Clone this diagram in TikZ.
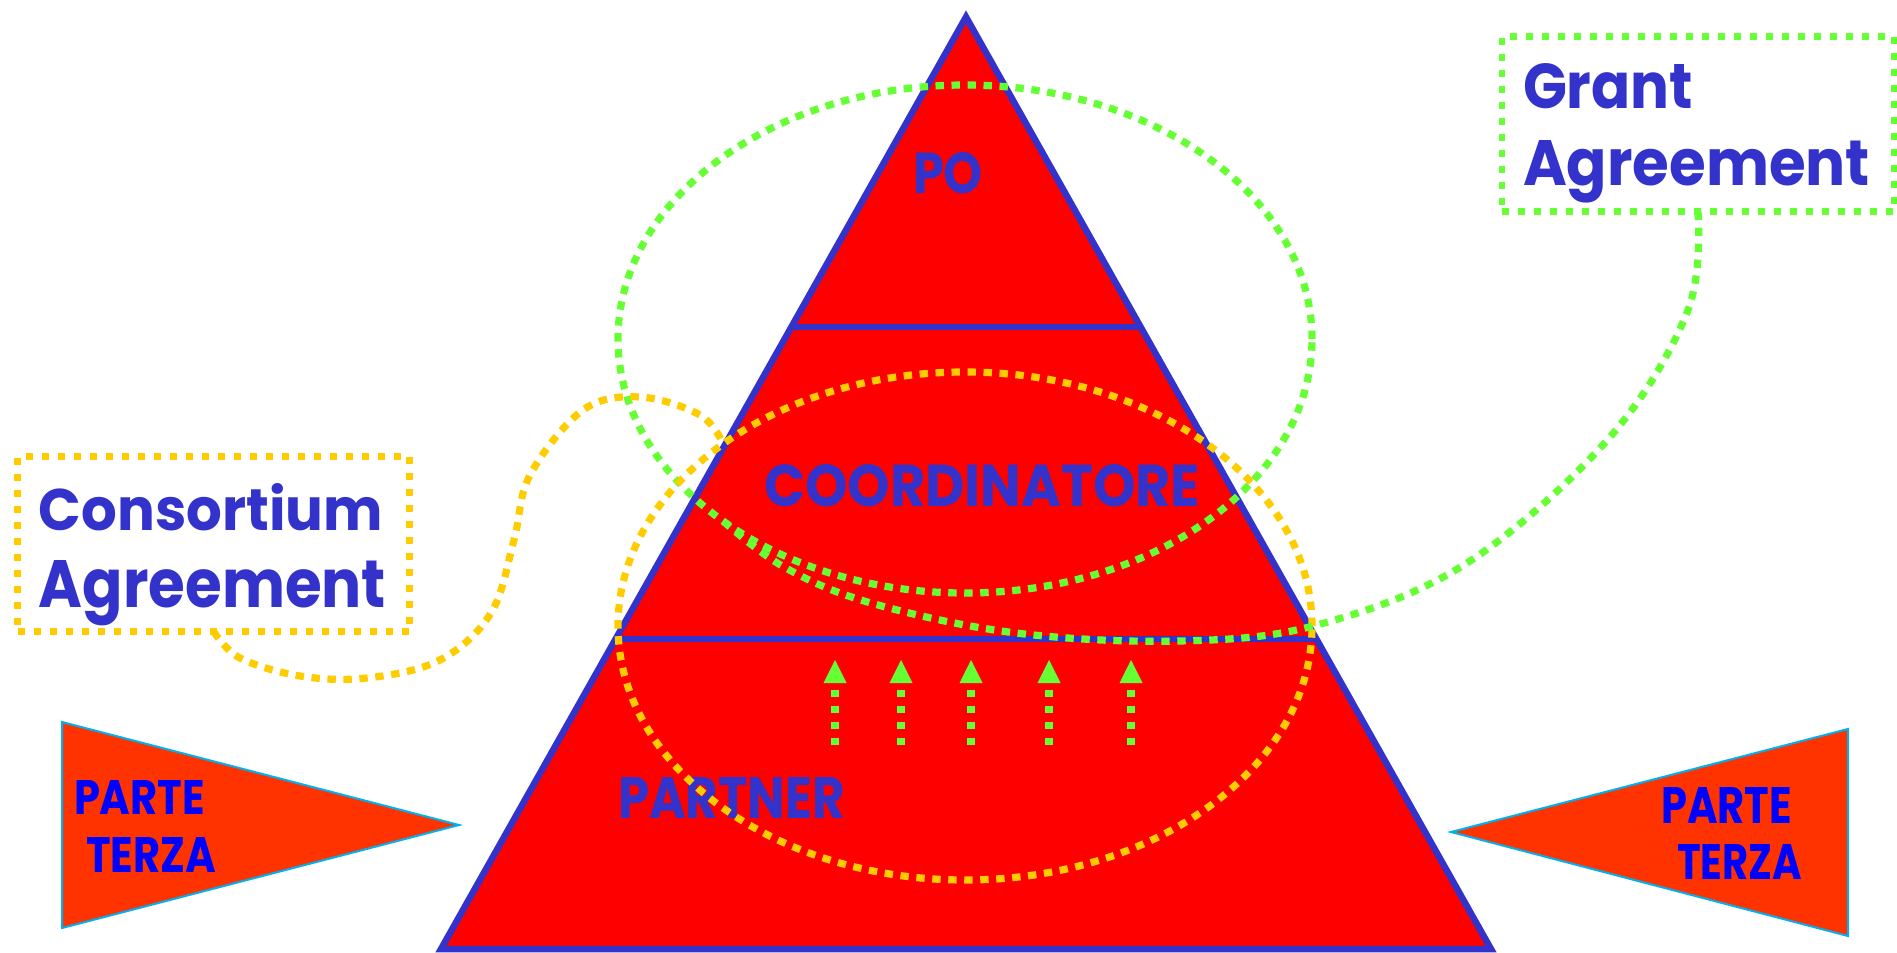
\documentclass[tikz,border=0pt]{standalone}
\usepackage{fontspec}
\setmainfont{Poppins}
\usetikzlibrary{shapes.geometric,arrows.meta,calc}
\definecolor{tblue}{RGB}{51,51,204}
\definecolor{tred}{RGB}{255,0,0}
\definecolor{tgreen}{RGB}{102,255,51}
\definecolor{tyellow}{RGB}{255,204,0}
\definecolor{porange}{RGB}{255,51,0}
\definecolor{pcyan}{RGB}{0,176,240}
\definecolor{pblue}{RGB}{0,0,255}
\begin{document}
\begin{tikzpicture}[x=0.5pt,y=-0.5pt,
  lbl/.style={inner sep=0pt, outer sep=0pt, anchor=north west, text=tblue, font=\bfseries},
  plbl/.style={lbl, text=pblue},
  gdots/.style={draw=tgreen, line width=3.6pt, dash pattern=on 4.2pt off 3.8pt},
  ydots/.style={draw=tyellow, line width=3.6pt, dash pattern=on 4.2pt off 3.8pt},
  ring/.style={ellipse, minimum width=347pt, minimum height=254pt, inner sep=0pt, outer sep=0pt},
  agbox/.style={rectangle, line width=3.4pt, dash pattern=on 3.4pt off 4.6pt, minimum width=196pt, minimum height=87.4pt, inner sep=0pt, outer sep=0pt},
  pennant/.style={fill=porange, draw=pcyan, line width=1pt, line join=miter},
  layer/.style={draw=tblue, line width=3.25pt},
  uparrow/.style={draw=tgreen, line width=4pt, dash pattern=on 3.65pt off 4.35pt, -{Triangle[length=11.5pt,width=11.5pt,line width=0pt]}}
]
\useasboundingbox (0,0) rectangle (1897,953);

% pennants (third parties)
\filldraw[pennant] (62,722) -- (459,825) -- (62,928) -- cycle;
\filldraw[pennant] (1848,729) -- (1451,832) -- (1848,936) -- cycle;
\node[plbl] (pl1) at (74,780) {\resizebox{65.5pt}{17pt}{PARTE}};
\node[plbl] (pl2) at (86,837) {\resizebox{65pt}{17.5pt}{TERZA}};
\node[plbl] (pr1) at (1661,787) {\resizebox{65.5pt}{18pt}{PARTE}};
\node[plbl] (pr2) at (1677,844) {\resizebox{62.5pt}{17.5pt}{TERZA}};

% pyramid
\coordinate (apex) at (966,17);
\coordinate (bl) at (441,949);
\coordinate (br) at (1491,949);
\filldraw[fill=tred, draw=tblue, line width=3.25pt, line join=miter, miter limit=10] (apex) -- (bl) -- (br) -- cycle;
\draw[layer] ($(apex)!0.3326!(bl)$) -- ($(apex)!0.3326!(br)$);
\draw[layer] ($(apex)!0.6674!(bl)$) -- ($(apex)!0.6674!(br)$);

\node[lbl] (po) at (913,152) {\resizebox{35pt}{20.5pt}{PO}};
\node[lbl] (coord) at (764,464) {\resizebox{218pt}{21pt}{COORDINATORE}};
\node[lbl] (partner) at (618,777) {\resizebox{113.5pt}{20.5pt}{PARTNER}};

% upward arrows
\foreach \x [count=\i] in {835,901,971,1049,1131} {
  \coordinate (as\i) at (\x,745);
  \coordinate (ae\i) at (\x,660);
  \draw[uparrow] (as\i) -- (ae\i);
}

% agreement ellipses
\node[ring, gdots] (ge) at (965,339) {};
\node[ring, ydots] (ye) at (965,626) {};

% agreement boxes
\node[agbox, draw=tyellow] (ca) at (213.75,544.25) {};
\node[agbox, draw=tgreen] (ga) at (1698,124.2) {};
\node[lbl] (ca1) at (39,483) {\resizebox{172pt}{23.5pt}{Consortium}};
\node[lbl] (ca2) at (39,560) {\resizebox{173.5pt}{23.5pt}{Agreement}};
\node[lbl] (ga1) at (1523,63) {\resizebox{85pt}{22.5pt}{Grant}};
\node[lbl] (ga2) at (1523,140) {\resizebox{173.5pt}{22.5pt}{Agreement}};

% callout curves
\draw[gdots] plot[smooth, tension=0.6] coordinates {(ga.south) (1688,310) (1610,437) (1467,563) (1317,625) (1180,641) (1016,633) (871,603) (784,567) (ge.217)};
\draw[ydots] plot[smooth, tension=0.6] coordinates {(ca.south) (240,658) (300,676) (367,678) (440,660) (491,613) (514,540) (530,475) (583,410) (640,397) (700,415) (ye.143)};
\end{tikzpicture}
\end{document}
